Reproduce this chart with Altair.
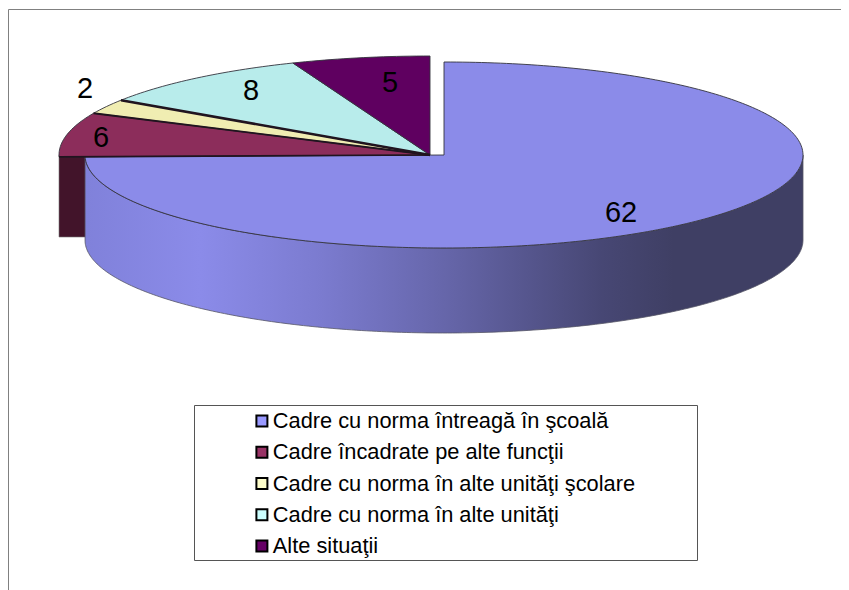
import math
import altair as alt
import pandas as pd

categories = ["Cadre cu norma întreagă în şcoală", "Cadre încadrate pe alte funcţii",
              "Cadre cu norma în alte unităţi şcolare", "Cadre cu norma în alte unităţi", "Alte situaţii"]
values = [62, 6, 2, 8, 5]
top_colors = ["#8b8be9", "#8c2d5b", "#f0edb2", "#b8eceb", "#5f0060"]
legend_colors = ["#9999ff", "#993366", "#ffffcc", "#ccffff", "#660066"]
label_x = [621, 101, 85, 251, 390]
label_y = [213, 138, 89, 91, 83]

W, H = 833, 582
x_scale = alt.Scale(domain=[8, 8 + W], nice=False, zero=False)
y_scale = alt.Scale(domain=[8 + H, 8], nice=False, zero=False)
X = lambda f="x": alt.X(f"{f}:Q", scale=x_scale, axis=None)
Y = lambda f="y": alt.Y(f"{f}:Q", scale=y_scale, axis=None)

BLUE = (444, 155, 359, 93)
REST = (430, 155, 371, 99)
DEPTH = 85
total = sum(values)


def rim(a, geom):
    cx, cy, rx, ry = geom
    r = math.radians(a)
    return cx + rx * math.sin(r), cy - ry * math.cos(r)


def sector(a0, a1, geom):
    n = max(2, int(abs(a1 - a0) / 1.0))
    pts = [(geom[0], geom[1])]
    for i in range(n + 1):
        pts.append(rim(a0 + (a1 - a0) * i / n, geom))
    pts.append((geom[0], geom[1]))
    return pd.DataFrame({"x": [p[0] for p in pts], "y": [p[1] for p in pts], "o": range(len(pts))})


layers = []

# frame
frame = pd.DataFrame({"x": [8.5, 8.5, 841], "y": [590, 9.5, 9.5], "o": [0, 1, 2]})
layers.append(alt.Chart(frame).mark_line(stroke="#808080", strokeWidth=1).encode(x=X(), y=Y(), order="o:Q"))

# legend box
box = pd.DataFrame({"x": [194.5], "x2": [697.5], "y": [405.5], "y2": [560.5]})
layers.append(alt.Chart(box).mark_rect(fill="#ffffff", stroke="#555555", strokeWidth=1).encode(
    x=X(), x2="x2:Q", y=Y(), y2="y2:Q"))

# legend-only layer
legend_df = pd.DataFrame({"cat": categories})
layers.append(
    alt.Chart(legend_df).mark_square(size=0, filled=True).encode(
        fill=alt.Fill("cat:N", sort=None,
                      scale=alt.Scale(domain=categories, range=legend_colors),
                      legend=alt.Legend(title=None, orient="none", legendX=243, legendY=402,
                                        padding=0, symbolType="square", symbolSize=121,
                                        symbolStrokeColor="#000000", symbolStrokeWidth=2,
                                        labelFont="Liberation Sans", labelFontSize=21.8,
                                        labelColor="#000000", labelLimit=500, labelOffset=0,
                                        rowPadding=8.3, symbolOpacity=1))
    )
)

# cut face of the pulled-out part
face = pd.DataFrame({"x": [59, 430], "y": [155, 155], "y2": [155 + 82, 155 + 82]})
layers.append(alt.Chart(face).mark_area(fill="#42142a", stroke="#777777", strokeWidth=0.6).encode(
    x=X(), y=Y(), y2="y2:Q"))

# blue wall
blue_sweep = 360 * values[0] / total
wall_pts = []
n = 220
for i in range(n + 1):
    px, py = rim(90 + (blue_sweep - 90) * i / n, BLUE)
    wall_pts.append((px, py, py + DEPTH))
wall = pd.DataFrame(wall_pts, columns=["x", "y", "y2"])
grad = alt.LinearGradient(gradient="linear", x1=0, x2=1, y1=0, y2=0, stops=[
    alt.GradientStop(offset=0.0, color="#8081da"),
    alt.GradientStop(offset=0.16, color="#8b8be9"),
    alt.GradientStop(offset=0.33, color="#7b7bcf"),
    alt.GradientStop(offset=0.50, color="#6666aa"),
    alt.GradientStop(offset=0.72, color="#474774"),
    alt.GradientStop(offset=0.82, color="#3f3f64"),
    alt.GradientStop(offset=1.0, color="#3f3f64"),
])
layers.append(alt.Chart(wall).mark_area(color=grad, stroke="#555566", strokeWidth=0.8).encode(
    x=X(), y=Y(), y2="y2:Q"))

# slice tops
angle = 0
boundaries = []
for v, c in zip(values, top_colors):
    a1 = angle + 360 * v / total
    g = BLUE if v == values[0] else REST
    df = sector(angle, a1, g)
    layers.append(alt.Chart(df).mark_line(fill=c, stroke="#33333d", strokeWidth=0.9, strokeJoin="round").encode(
        x=X(), y=Y(), order="o:Q"))
    angle = a1
    boundaries.append(angle)

# heavier radial edges between the pulled-out slices
for a, w in zip(boundaries[:3], [1.6, 1.8, 2.6]):
    ex, ey = rim(a, REST)
    edge = pd.DataFrame({"x": [REST[0], ex], "y": [REST[1], ey], "o": [0, 1]})
    layers.append(alt.Chart(edge).mark_line(stroke="#20141f", strokeWidth=w).encode(
        x=X(), y=Y(), order="o:Q"))

# value labels
labels = pd.DataFrame({"x": label_x, "y": label_y, "t": [str(v) for v in values]})
layers.append(alt.Chart(labels).mark_text(font="Liberation Sans", fontSize=29, color="#000000",
                                          align="center", baseline="middle").encode(
    x=X(), y=Y(), text="t:N"))

chart = alt.layer(*layers).properties(
    width=W, height=H, padding=0, background="#ffffff",
    autosize=alt.AutoSizeParams(type="none"),
).configure_view(stroke=None)

chart.save("out.html", embed_options={"renderer": "svg", "actions": False})
